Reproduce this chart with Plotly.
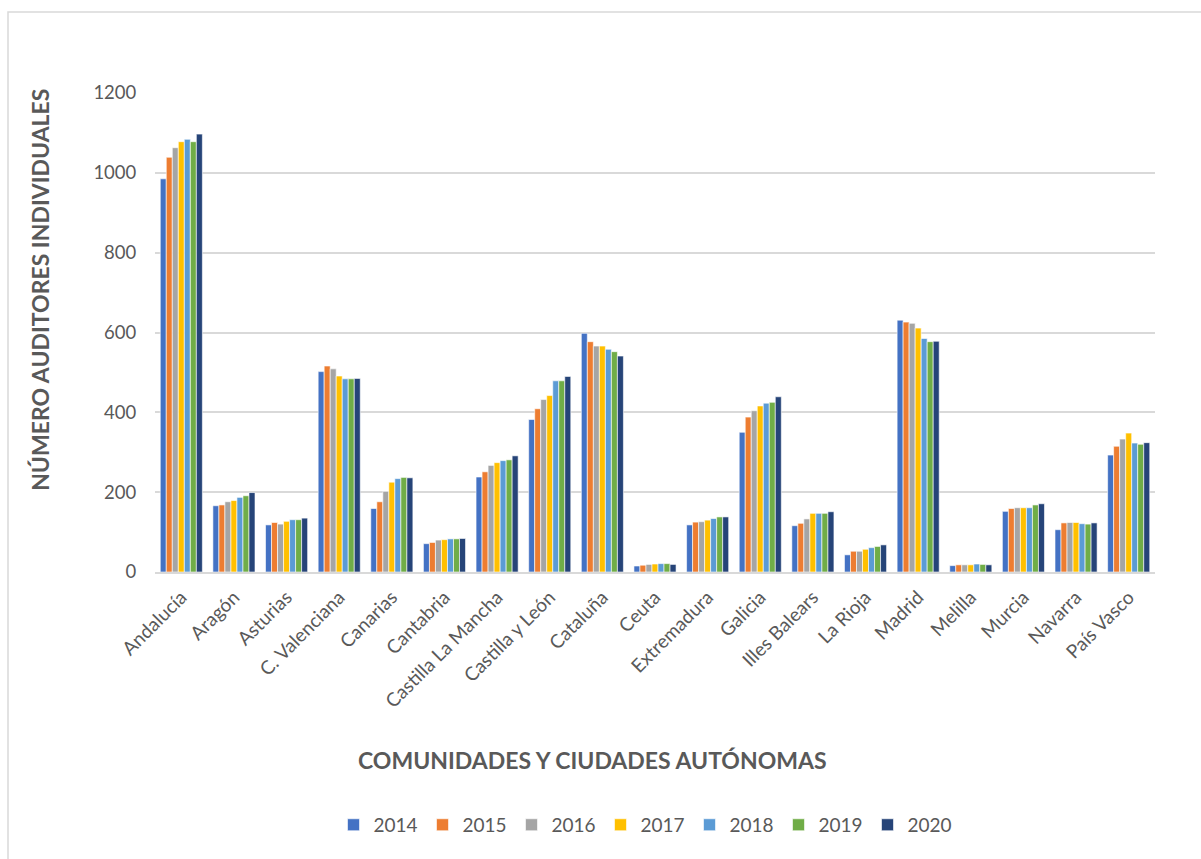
import plotly.graph_objects as go

regiones = ["Andalucía", "Aragón", "Asturias", "C. Valenciana", "Canarias", "Cantabria",
            "Castilla La Mancha", "Castilla y León", "Cataluña", "Ceuta", "Extremadura",
            "Galicia", "Illes Balears", "La Rioja", "Madrid", "Melilla", "Murcia",
            "Navarra", "País Vasco"]

anios = ["2014", "2015", "2016", "2017", "2018", "2019", "2020"]

a2014 = [985, 166, 118, 502, 159, 71, 238, 382, 598, 15, 118, 350, 116, 43, 631, 16, 152, 106, 293]
a2015 = [1039, 168, 124, 516, 176, 74, 251, 409, 577, 17, 125, 388, 122, 52, 626, 18, 159, 123, 315]
a2016 = [1063, 176, 120, 509, 202, 80, 267, 432, 566, 19, 126, 404, 133, 52, 623, 18, 161, 124, 333]
a2017 = [1078, 179, 127, 491, 225, 81, 274, 442, 566, 20, 130, 416, 147, 57, 611, 18, 161, 124, 348]
a2018 = [1084, 187, 131, 484, 234, 83, 279, 479, 558, 21, 134, 423, 147, 61, 585, 20, 161, 121, 323]
a2019 = [1078, 191, 131, 484, 237, 83, 281, 479, 552, 21, 138, 425, 147, 64, 577, 19, 168, 120, 320]
a2020 = [1097, 199, 135, 485, 236, 84, 291, 490, 541, 19, 138, 439, 151, 68, 578, 18, 171, 123, 324]

series = [a2014, a2015, a2016, a2017, a2018, a2019, a2020]
colores = ["#4472C4", "#ED7D31", "#A5A5A5", "#FFC000", "#5B9BD5", "#70AD47", "#264478"]

gris = "#595959"
fuente = "Lato, Carlito, Calibri, sans-serif"

fig = go.Figure()
for anio, valores, color in zip(anios, series, colores):
    fig.add_trace(go.Bar(
        x=regiones, y=valores, name=anio,
        marker=dict(color=color, line=dict(color="white", width=0.6)),
    ))

fig.update_layout(
    width=1201, height=859,
    margin=dict(l=155, r=46, t=93, b=287),
    paper_bgcolor="white", plot_bgcolor="white",
    barmode="group", bargap=0.2, bargroupgap=0.0,
    font=dict(family=fuente, size=18, color=gris),
    showlegend=True,
    legend=dict(orientation="h", x=0.49, xanchor="center", y=-0.528, yanchor="middle",
                font=dict(size=19, color=gris), itemwidth=30, traceorder="normal",
                entrywidth=44, entrywidthmode="pixels"),
)

fig.update_yaxes(
    range=[0, 1200], dtick=200, showgrid=True, gridcolor="#D9D9D9", gridwidth=1.5,
    zeroline=False, showline=False, ticks="outside", ticklen=14, tickcolor="white",
    tickfont=dict(size=18.5, color=gris),
)
fig.update_xaxes(
    tickangle=-45, showline=True, linecolor="#D9D9D9", linewidth=1.5,
    ticks="outside", ticklen=5, tickcolor="white",
    tickfont=dict(size=19, color=gris),
)

fig.add_annotation(
    text="<b>NÚMERO AUDITORES INDIVIDUALES</b>", textangle=-90,
    xref="paper", yref="paper", x=-0.115, y=0.589, xanchor="center", yanchor="middle",
    showarrow=False, font=dict(size=23, color=gris, family=fuente),
)
fig.add_annotation(
    text="<b>COMUNIDADES Y CIUDADES AUTÓNOMAS</b>",
    xref="paper", yref="paper", x=0.437, y=-0.392, xanchor="center", yanchor="middle",
    showarrow=False, font=dict(size=23, color=gris, family=fuente),
)

# marco exterior del gráfico
fig.add_shape(type="rect", xref="paper", yref="paper",
              x0=-0.147, y0=-0.65, x1=1.1, y1=1.169,
              line=dict(color="#D9D9D9", width=1.5), layer="below")

fig.write_html("out.html")
